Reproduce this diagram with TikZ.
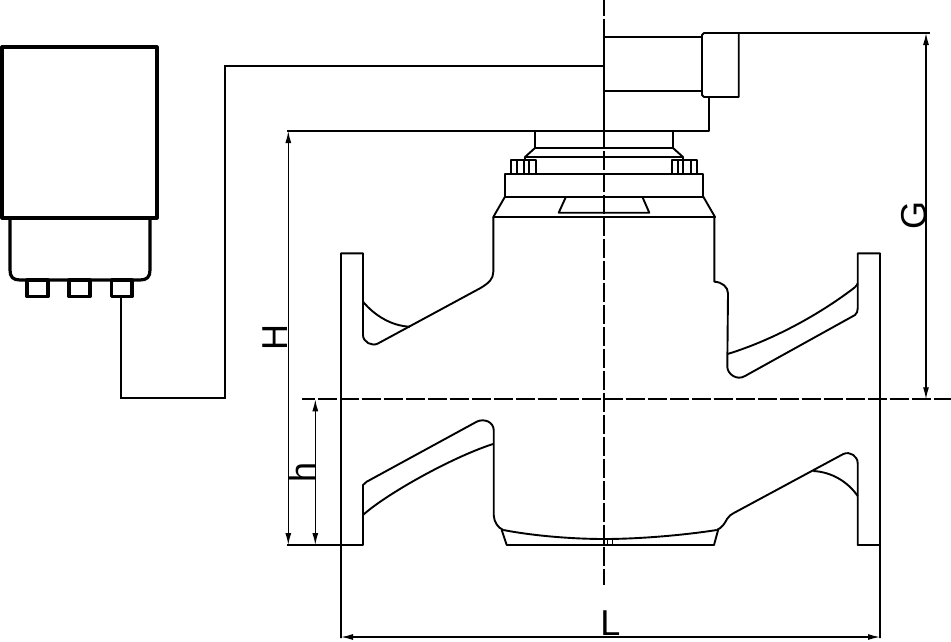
\documentclass[tikz,border=0pt]{standalone}
\usepackage{fontspec}
\setmainfont{Liberation Sans}
\usetikzlibrary{arrows.meta}
\tikzset{
  outline_/.style = {draw, line width=1.9pt, line join=round},
  heavy_/.style   = {draw, line width=3.2pt, line join=round},
  wire_/.style    = {draw, line width=1.6pt},
  axis_/.style    = {draw, line width=1.8pt, dash pattern=on 19pt off 3pt},
  dim_/.style     = {draw, line width=1.3pt, {Latex[length=12pt,width=6pt]}-{Latex[length=12pt,width=6pt]}},
  label_/.style   = {font=\fontsize{36}{36}\selectfont, inner sep=0pt}
}

\begin{document}
\begin{tikzpicture}
	[
	x = 1pt,
	y = -1pt
	]
	\useasboundingbox (0,0) rectangle (951,641);
	% center lines
	\draw [axis_] (604,-3.5) -- (604,585);
	\draw [axis_, dash phase=6.2pt] (302,399.3) -- (951,399.3);
	% display unit
	\draw [heavy_] (2,47) rectangle (157,218);
	\draw [heavy_] (10,218) -- (10,270)
		.. controls (10,277) and (13,280) .. (20,280) -- (140,280)
		.. controls (147,280) and (150,277) .. (150,270) -- (150,218);
	\foreach \xa/\xb in {27/48, 69/90, 111.7/132}
		\draw [heavy_] (\xa,280) rectangle (\xb,296.7);
	% signal wire
	\draw [wire_] (121,296.7) -- (121,398) -- (225,398) -- (225,66) -- (604,66);
	% sensor head
	\draw [outline_] (604,36.7) -- (702,36.7);
	\draw [outline_] (604,36.7) -- (604,131);
	\draw [outline_] (604,91) -- (702,91);
	\draw [outline_] (704,33) -- (738.7,33) -- (738.7,97) -- (704,97) -- (702,95) -- (702,35) -- cycle;
	\draw [outline_] (709,97) -- (709,131) -- (287,131);
	% neck and bolts
	\draw [outline_] (535,131) -- (535,148) -- (525,157) -- (525,160);
	\draw [outline_] (673,131) -- (673,148) -- (683,157) -- (683,160);
	\draw [outline_] (535,148) -- (673,148);
	\draw [outline_] (525,157) -- (683,157);
	\draw [outline_] (510.7,174.3) -- (510.7,160) -- (536,160) -- (536,174.3);
	\draw [outline_] (671.7,174.3) -- (671.7,160) -- (697.3,160) -- (697.3,174.3);
	\foreach \xa in {516.7, 524.3, 529.3, 678.3, 683.3, 690.7}
		\draw [outline_] (\xa,160) -- (\xa,174.3);
	\draw [outline_] (505,174.3) rectangle (703.3,196.7);
	\draw [outline_] (505,196.7) -- (493.3,217) -- (715,217) -- (703.3,196.7);
	\draw [outline_] (566,196.7) -- (558.7,212.7) -- (649.3,212.7) -- (642.3,196.7);
	% upper left of body
	\draw [outline_] (341,638) -- (341,253.3) -- (363,253.3) -- (363,335)
		.. controls (363,342) and (372,347) .. (378.3,343.3) -- (480,288.3)
		.. controls (489,283) and (493.3,279) .. (493.3,271.7) -- (493.3,217);
	\draw [outline_] (363,301.7) .. controls (375,316) and (392,326) .. (410,326.7);
	% upper right of body
	\draw [outline_] (714.3,217) -- (714.3,281.7)
		.. controls (722,282) and (728,287) .. (728,293.3) -- (727.3,366.7)
		.. controls (727.3,374) and (737,381) .. (745,376) -- (855,315)
		.. controls (857,313.5) and (857.7,311) .. (857.7,308.3) -- (857.7,253.3) -- (880,253.3) -- (880,638);
	\draw [outline_] (727.5,354) .. controls (770,341) and (815,317) .. (850,291)
		.. controls (854,288) and (857,286) .. (857.7,283.3);
	% lower left of body
	\draw [outline_] (287,545) -- (363,545) -- (363,485) -- (366.7,481.7) -- (476.7,421.7)
		.. controls (484,418) and (493.7,422) .. (493.7,430) -- (493.7,515)
		.. controls (494,522) and (498,528) .. (503.3,530);
	\draw [outline_] (363,515) .. controls (385,495) and (450,458) .. (493,444);
	% bottom of body
	\draw [outline_] (503.3,530) .. controls (540,537) and (580,539) .. (604,539)
		.. controls (640,539) and (685,535) .. (716.7,530);
	\draw [outline_] (501.7,530) -- (506.7,545) -- (714,545) -- (718.3,529.3);
	\foreach \xa in {607.7, 612.7}
		\draw [line width=1.1pt] (\xa,539) -- (\xa,545);
	% lower right of body
	\draw [outline_] (716.7,530) .. controls (722,528) and (725,523) .. (727,519)
		.. controls (729,516) and (731,514.5) .. (733.3,513.3) -- (843.3,454)
		.. controls (850,451) and (857.7,456) .. (857.7,463.3) -- (857.7,545) -- (880,545);
	\draw [outline_] (813.3,471) .. controls (832,472) and (848,482) .. (857.7,496);
	% dimensions
	\coordinate (gtop) at (926,33);
	\coordinate (gbot) at (926,399.3);
	\coordinate (Htop) at (288.3,131);
	\coordinate (Hbot) at (288.3,545);
	\coordinate (htop) at (315.3,399.3);
	\coordinate (hbot) at (315.3,545);
	\coordinate (Lleft) at (341,637);
	\coordinate (Lright) at (880,637);
	\draw [outline_] (738.7,33) -- (930,33);
	\draw [dim_] (gtop) -- (gbot);
	\draw [dim_] (Htop) -- (Hbot);
	\draw [dim_] (htop) -- (hbot);
	\draw [dim_] (Lleft) -- (Lright);
	\node [label_, rotate=90, anchor=base] (Hlabel) at (287,337) {H};
	\node [label_, rotate=90, anchor=base] (hlabel) at (315,472.5) {h};
	\node [label_, rotate=90, anchor=base] (Glabel) at (926,215.5) {G};
	\node [label_, anchor=base] (Llabel) at (610.5,635) {L};
\end{tikzpicture}
\end{document}
